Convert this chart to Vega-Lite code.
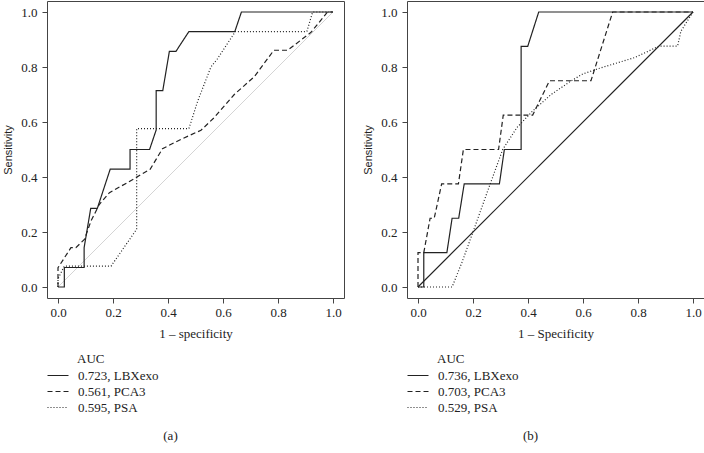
{
  "$schema": "https://vega.github.io/schema/vega-lite/v6.json",
  "padding": {"left": 2, "top": 0, "right": 0, "bottom": 0},
  "spacing": 63,
  "bounds": "flush",
  "config": {
    "font": "Liberation Serif",
    "view": {"stroke": "#444444", "strokeWidth": 1},
    "axis": {"grid": false, "domain": false, "tickColor": "#444444", "tickSize": 5, "labelFont": "Liberation Serif", "labelFontSize": 13, "labelColor": "#222222", "titleFont": "Liberation Serif", "titleFontSize": 13, "titleFontWeight": "normal", "titleColor": "#222222"},
    "axisX": {"labelPadding": 3, "titlePadding": 8},
    "axisY": {"labelPadding": 5, "titleFont": "Liberation Sans", "titleFontSize": 11, "titlePadding": 7},
    "legend": {"orient": "none", "legendX": 30, "legendY": 352, "padding": 0, "titleFont": "Liberation Serif", "titleFontSize": 13, "titleFontWeight": "normal", "titleColor": "#222222", "labelFont": "Liberation Serif", "labelFontSize": 13, "labelColor": "#222222", "symbolType": "M-36,0H-15", "symbolSize": 4, "symbolStrokeWidth": 1.2, "symbolStrokeColor": "#222222", "labelOffset": -12, "rowPadding": 2, "titlePadding": 3},
    "title": {"font": "Liberation Serif", "fontSize": 13, "fontWeight": "normal", "color": "#222222"}
  },
  "resolve": {"scale": {"strokeDash": "independent"}, "legend": {"strokeDash": "independent"}},
  "hconcat": [
    {
      "width": 297, "height": 297,
      "title": {"text": "(a)", "orient": "bottom", "anchor": "middle", "offset": 15, "dx": -25},
      "layer": [
        {
          "data": {"values": [{"fpr": 0, "tpr": 0}, {"fpr": 1, "tpr": 1}]},
          "mark": {"type": "line", "color": "#d4d4d4", "strokeWidth": 1},
          "encoding": {
            "x": {"field": "fpr", "type": "quantitative", "scale": {"domain": [-0.04, 1.04], "nice": false, "zero": false}, "axis": {"values": [0, 0.2, 0.4, 0.6, 0.8, 1], "format": ".1f", "title": "1 – specificity"}},
            "y": {"field": "tpr", "type": "quantitative", "scale": {"domain": [-0.04, 1.04], "nice": false, "zero": false}, "axis": {"values": [0, 0.2, 0.4, 0.6, 0.8, 1], "format": ".1f", "title": "Sensitivity"}}
          }
        },
        {
          "data": {"values": [
            {"series": "0.723, LBXexo", "fpr": 0, "tpr": 0},
            {"series": "0.723, LBXexo", "fpr": 0.023, "tpr": 0},
            {"series": "0.723, LBXexo", "fpr": 0.023, "tpr": 0.071},
            {"series": "0.723, LBXexo", "fpr": 0.095, "tpr": 0.071},
            {"series": "0.723, LBXexo", "fpr": 0.095, "tpr": 0.143},
            {"series": "0.723, LBXexo", "fpr": 0.119, "tpr": 0.286},
            {"series": "0.723, LBXexo", "fpr": 0.143, "tpr": 0.286},
            {"series": "0.723, LBXexo", "fpr": 0.19, "tpr": 0.429},
            {"series": "0.723, LBXexo", "fpr": 0.262, "tpr": 0.429},
            {"series": "0.723, LBXexo", "fpr": 0.262, "tpr": 0.5},
            {"series": "0.723, LBXexo", "fpr": 0.333, "tpr": 0.5},
            {"series": "0.723, LBXexo", "fpr": 0.357, "tpr": 0.571},
            {"series": "0.723, LBXexo", "fpr": 0.357, "tpr": 0.714},
            {"series": "0.723, LBXexo", "fpr": 0.381, "tpr": 0.714},
            {"series": "0.723, LBXexo", "fpr": 0.405, "tpr": 0.857},
            {"series": "0.723, LBXexo", "fpr": 0.429, "tpr": 0.857},
            {"series": "0.723, LBXexo", "fpr": 0.476, "tpr": 0.929},
            {"series": "0.723, LBXexo", "fpr": 0.643, "tpr": 0.929},
            {"series": "0.723, LBXexo", "fpr": 0.667, "tpr": 1},
            {"series": "0.723, LBXexo", "fpr": 1, "tpr": 1},
            {"series": "0.561, PCA3", "fpr": 0, "tpr": 0},
            {"series": "0.561, PCA3", "fpr": 0, "tpr": 0.07},
            {"series": "0.561, PCA3", "fpr": 0.047, "tpr": 0.143},
            {"series": "0.561, PCA3", "fpr": 0.065, "tpr": 0.143},
            {"series": "0.561, PCA3", "fpr": 0.096, "tpr": 0.173},
            {"series": "0.561, PCA3", "fpr": 0.12, "tpr": 0.24},
            {"series": "0.561, PCA3", "fpr": 0.15, "tpr": 0.3},
            {"series": "0.561, PCA3", "fpr": 0.187, "tpr": 0.343},
            {"series": "0.561, PCA3", "fpr": 0.253, "tpr": 0.38},
            {"series": "0.561, PCA3", "fpr": 0.335, "tpr": 0.428},
            {"series": "0.561, PCA3", "fpr": 0.38, "tpr": 0.503},
            {"series": "0.561, PCA3", "fpr": 0.447, "tpr": 0.537},
            {"series": "0.561, PCA3", "fpr": 0.52, "tpr": 0.57},
            {"series": "0.561, PCA3", "fpr": 0.568, "tpr": 0.616},
            {"series": "0.561, PCA3", "fpr": 0.641, "tpr": 0.7},
            {"series": "0.561, PCA3", "fpr": 0.714, "tpr": 0.765},
            {"series": "0.561, PCA3", "fpr": 0.785, "tpr": 0.861},
            {"series": "0.561, PCA3", "fpr": 0.835, "tpr": 0.861},
            {"series": "0.561, PCA3", "fpr": 0.92, "tpr": 0.926},
            {"series": "0.561, PCA3", "fpr": 0.98, "tpr": 1},
            {"series": "0.561, PCA3", "fpr": 1, "tpr": 1},
            {"series": "0.595, PSA", "fpr": 0, "tpr": 0},
            {"series": "0.595, PSA", "fpr": 0, "tpr": 0.03},
            {"series": "0.595, PSA", "fpr": 0.023, "tpr": 0.076},
            {"series": "0.595, PSA", "fpr": 0.193, "tpr": 0.076},
            {"series": "0.595, PSA", "fpr": 0.286, "tpr": 0.21},
            {"series": "0.595, PSA", "fpr": 0.286, "tpr": 0.576},
            {"series": "0.595, PSA", "fpr": 0.476, "tpr": 0.576},
            {"series": "0.595, PSA", "fpr": 0.508, "tpr": 0.676},
            {"series": "0.595, PSA", "fpr": 0.556, "tpr": 0.8},
            {"series": "0.595, PSA", "fpr": 0.58, "tpr": 0.83},
            {"series": "0.595, PSA", "fpr": 0.645, "tpr": 0.929},
            {"series": "0.595, PSA", "fpr": 0.905, "tpr": 0.929},
            {"series": "0.595, PSA", "fpr": 0.926, "tpr": 1},
            {"series": "0.595, PSA", "fpr": 1, "tpr": 1}
          ]},
          "mark": {"type": "line", "color": "#222222", "strokeWidth": 1.2},
          "encoding": {
            "x": {"field": "fpr", "type": "quantitative"},
            "y": {"field": "tpr", "type": "quantitative"},
            "order": {"value": null},
            "strokeDash": {"field": "series", "type": "nominal", "scale": {"domain": ["0.723, LBXexo", "0.561, PCA3", "0.595, PSA"], "range": [[1, 0], [5, 3], [1, 2]]}, "legend": {"title": "AUC"}}
          }
        }
      ]
    },
    {
      "width": 297, "height": 297,
      "title": {"text": "(b)", "orient": "bottom", "anchor": "middle", "offset": 15, "dx": -25},
      "layer": [
        {
          "data": {"values": [{"fpr": 0, "tpr": 0}, {"fpr": 1, "tpr": 1}]},
          "mark": {"type": "line", "color": "#222222", "strokeWidth": 1.2},
          "encoding": {
            "x": {"field": "fpr", "type": "quantitative", "scale": {"domain": [-0.04, 1.04], "nice": false, "zero": false}, "axis": {"values": [0, 0.2, 0.4, 0.6, 0.8, 1], "format": ".1f", "title": "1 – Specificity"}},
            "y": {"field": "tpr", "type": "quantitative", "scale": {"domain": [-0.04, 1.04], "nice": false, "zero": false}, "axis": {"values": [0, 0.2, 0.4, 0.6, 0.8, 1], "format": ".1f", "title": "Sensitivity"}}
          }
        },
        {
          "data": {"values": [
            {"series": "0.736, LBXexo", "fpr": 0, "tpr": 0},
            {"series": "0.736, LBXexo", "fpr": 0.021, "tpr": 0},
            {"series": "0.736, LBXexo", "fpr": 0.021, "tpr": 0.125},
            {"series": "0.736, LBXexo", "fpr": 0.105, "tpr": 0.125},
            {"series": "0.736, LBXexo", "fpr": 0.124, "tpr": 0.25},
            {"series": "0.736, LBXexo", "fpr": 0.148, "tpr": 0.25},
            {"series": "0.736, LBXexo", "fpr": 0.168, "tpr": 0.375},
            {"series": "0.736, LBXexo", "fpr": 0.296, "tpr": 0.375},
            {"series": "0.736, LBXexo", "fpr": 0.314, "tpr": 0.5},
            {"series": "0.736, LBXexo", "fpr": 0.375, "tpr": 0.5},
            {"series": "0.736, LBXexo", "fpr": 0.375, "tpr": 0.875},
            {"series": "0.736, LBXexo", "fpr": 0.399, "tpr": 0.875},
            {"series": "0.736, LBXexo", "fpr": 0.439, "tpr": 1},
            {"series": "0.736, LBXexo", "fpr": 1, "tpr": 1},
            {"series": "0.703, PCA3", "fpr": 0, "tpr": 0},
            {"series": "0.703, PCA3", "fpr": 0, "tpr": 0.125},
            {"series": "0.703, PCA3", "fpr": 0.021, "tpr": 0.125},
            {"series": "0.703, PCA3", "fpr": 0.044, "tpr": 0.25},
            {"series": "0.703, PCA3", "fpr": 0.059, "tpr": 0.25},
            {"series": "0.703, PCA3", "fpr": 0.086, "tpr": 0.375},
            {"series": "0.703, PCA3", "fpr": 0.147, "tpr": 0.375},
            {"series": "0.703, PCA3", "fpr": 0.165, "tpr": 0.5},
            {"series": "0.703, PCA3", "fpr": 0.293, "tpr": 0.5},
            {"series": "0.703, PCA3", "fpr": 0.31, "tpr": 0.625},
            {"series": "0.703, PCA3", "fpr": 0.417, "tpr": 0.625},
            {"series": "0.703, PCA3", "fpr": 0.478, "tpr": 0.75},
            {"series": "0.703, PCA3", "fpr": 0.629, "tpr": 0.75},
            {"series": "0.703, PCA3", "fpr": 0.708, "tpr": 1},
            {"series": "0.703, PCA3", "fpr": 1, "tpr": 1},
            {"series": "0.529, PSA", "fpr": 0, "tpr": 0},
            {"series": "0.529, PSA", "fpr": 0.124, "tpr": 0},
            {"series": "0.529, PSA", "fpr": 0.16, "tpr": 0.09},
            {"series": "0.529, PSA", "fpr": 0.2, "tpr": 0.2},
            {"series": "0.529, PSA", "fpr": 0.25, "tpr": 0.34},
            {"series": "0.529, PSA", "fpr": 0.308, "tpr": 0.5},
            {"series": "0.529, PSA", "fpr": 0.36, "tpr": 0.58},
            {"series": "0.529, PSA", "fpr": 0.417, "tpr": 0.64},
            {"series": "0.529, PSA", "fpr": 0.484, "tpr": 0.7},
            {"series": "0.529, PSA", "fpr": 0.556, "tpr": 0.749},
            {"series": "0.529, PSA", "fpr": 0.6, "tpr": 0.775},
            {"series": "0.529, PSA", "fpr": 0.665, "tpr": 0.797},
            {"series": "0.529, PSA", "fpr": 0.787, "tpr": 0.834},
            {"series": "0.529, PSA", "fpr": 0.877, "tpr": 0.876},
            {"series": "0.529, PSA", "fpr": 0.944, "tpr": 0.876},
            {"series": "0.529, PSA", "fpr": 0.956, "tpr": 0.93},
            {"series": "0.529, PSA", "fpr": 1, "tpr": 1}
          ]},
          "mark": {"type": "line", "color": "#222222", "strokeWidth": 1.2},
          "encoding": {
            "x": {"field": "fpr", "type": "quantitative"},
            "y": {"field": "tpr", "type": "quantitative"},
            "order": {"value": null},
            "strokeDash": {"field": "series", "type": "nominal", "scale": {"domain": ["0.736, LBXexo", "0.703, PCA3", "0.529, PSA"], "range": [[1, 0], [5, 3], [1, 2]]}, "legend": {"title": "AUC"}}
          }
        }
      ]
    }
  ]
}
